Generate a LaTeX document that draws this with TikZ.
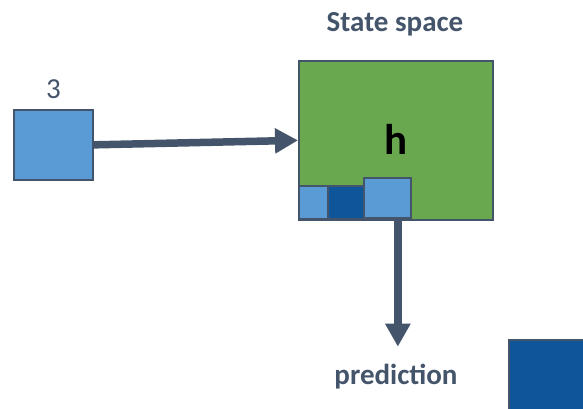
\documentclass[tikz,border=0pt]{standalone}
\usepackage{fontspec}
\setmainfont{Carlito}
\usetikzlibrary{arrows.meta,calc}
\definecolor{cellblue}{HTML}{5B9BD5}
\definecolor{cellgreen}{HTML}{6AA84F}
\definecolor{celldark}{HTML}{0F5599}
\definecolor{slate}{HTML}{44546A}
\begin{document}
\begin{tikzpicture}[x=1pt,y=-1pt,
  cell/.style={draw=slate,line width=1.7pt,inner sep=0pt,anchor=north west},
  label/.style={text=slate,anchor=base,font=\fontsize{29}{31}\selectfont},
  boldlabel/.style={label,font=\fontsize{29}{31}\selectfont\bfseries},
  flow/.style={draw=slate,line width=7.5pt,-{Triangle[length=23pt,width=24pt]}}]
  \clip (0,0) rectangle (583,409);
  % input cell and its value
  \node[cell,fill=cellblue,minimum width=79pt,minimum height=70pt] (in) at (13,109) {};
  \node[label] (val) at (53.5,99) {3};
  % hidden state
  \node[cell,fill=cellgreen,minimum width=194pt,minimum height=159pt] (state) at (298,60) {};
  \node[anchor=base,font=\fontsize{43}{45}\selectfont\bfseries] (h) at (396,154) {h};
  \node[boldlabel] (title) at (395,32) {State space};
  % memory cells inside the state
  \node[cell,fill=cellblue,minimum width=29pt,minimum height=33pt] (m1) at (298,185) {};
  \node[cell,fill=celldark,minimum width=36pt,minimum height=33pt] (m2) at (327,185) {};
  \node[cell,fill=cellblue,minimum width=47pt,minimum height=40pt] (m3) at (363,177) {};
  % output
  \node[boldlabel] (pred) at (396,384) {prediction};
  \coordinate (out) at ($(state.south)+(2,0)$);
  \coordinate (outend) at ($(out)+(0,126)$);
  % next input cell entering on the right
  \node[cell,fill=celldark,minimum width=90pt,minimum height=80pt] (next) at (508,339) {};
  % connectors
  \draw[flow] (in.east) -- (state.west);
  \draw[flow] (out) -- (outend);
\end{tikzpicture}
\end{document}
